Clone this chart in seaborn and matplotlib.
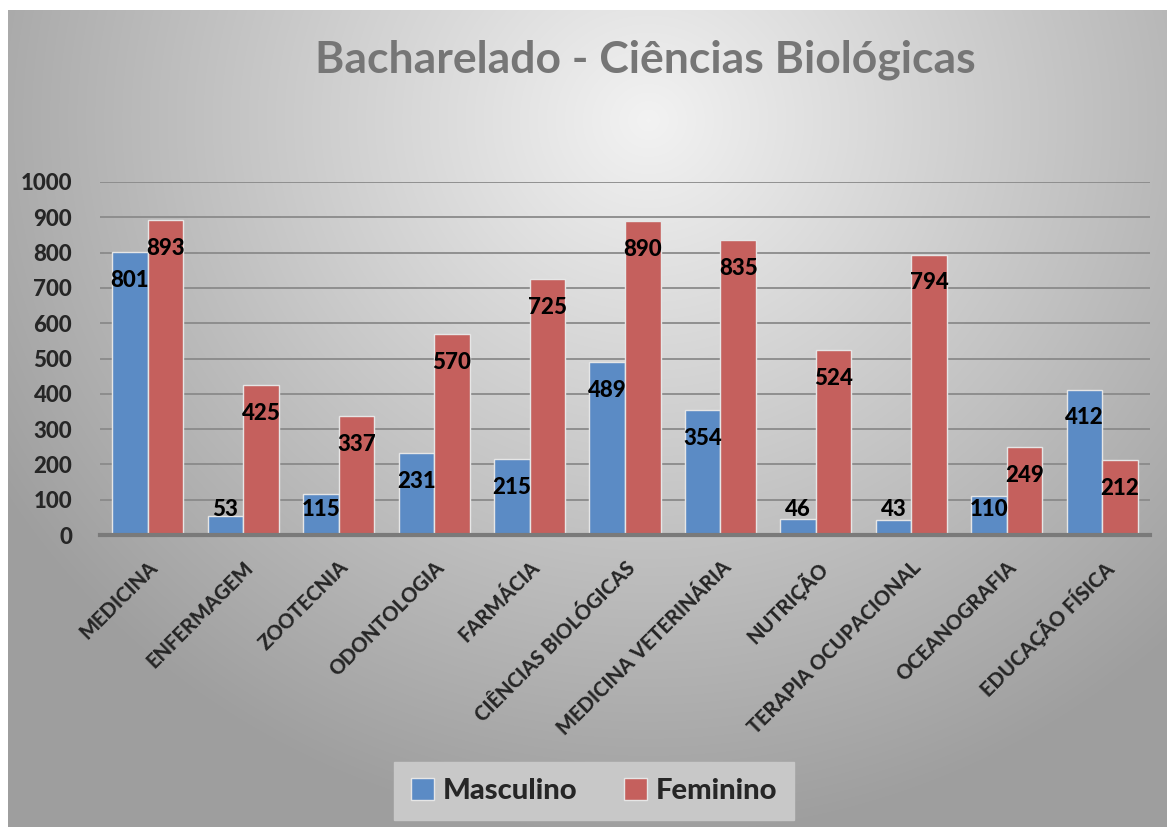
import numpy as np
import pandas as pd
import matplotlib.pyplot as plt
import seaborn as sns

cursos = ['MEDICINA', 'ENFERMAGEM', 'ZOOTECNIA', 'ODONTOLOGIA', 'FARMÁCIA',
          'CIÊNCIAS BIOLÓGICAS', 'MEDICINA VETERINÁRIA', 'NUTRIÇÃO',
          'TERAPIA OCUPACIONAL', 'OCEANOGRAFIA', 'EDUCAÇÃO FÍSICA']
masculino = [801, 53, 115, 231, 215, 489, 354, 46, 43, 110, 412]
feminino = [893, 425, 337, 570, 725, 890, 835, 524, 794, 249, 212]
series = ['Masculino', 'Feminino']

df = pd.DataFrame({
    'Curso': cursos * 2,
    'Sexo': ['Masculino'] * len(cursos) + ['Feminino'] * len(cursos),
    'Total': masculino + feminino,
})

sns.set_theme(style='white')
plt.rcParams['font.family'] = ['Lato', 'DejaVu Sans']

fig = plt.figure(figsize=(11.67, 8.27), dpi=100)
fig.patch.set_facecolor('white')

# fundo com gradiente radial (estilo Excel)
bg = fig.add_axes([8 / 1167, 0, 1 - 8 / 1167, 1 - 10 / 827], zorder=-5)
yy, xx = np.mgrid[0:817, 0:1159]
r = np.sqrt(((xx - 640) / 760) ** 2 + ((yy - 110) / 720) ** 2)
val = np.clip(0.95 - 0.33 * r, 0.62, 0.96)
bg.imshow(np.dstack([val, val, val]), aspect='auto', interpolation='bilinear')
bg.set_axis_off()

ax = fig.add_axes([100 / 1167, 1 - 535 / 827, 1050 / 1167, 353 / 827])
ax.set_facecolor('none')

sns.barplot(data=df, x='Curso', y='Total', hue='Sexo', hue_order=series,
            palette=['#5b8bc5', '#c5605d'], saturation=1, width=0.745, gap=0,
            edgecolor='#e6e6e6', linewidth=1.0, ax=ax, zorder=3)

for container in ax.containers:
    for bar in container:
        v = bar.get_height()
        y = max(v - 80, 72)
        ax.text(bar.get_x() + bar.get_width() / 2, y, f'{int(v)}',
                ha='center', va='center', fontsize=16, fontweight='black',
                color='black', zorder=5)

ax.set_ylim(0, 1000)
ax.set_yticks(range(0, 1001, 100))
ax.yaxis.grid(True, color='#8a8a8a', linewidth=1.3, zorder=0)
ax.set_axisbelow(True)
for s in ['top', 'right', 'left']:
    ax.spines[s].set_visible(False)
ax.spines['bottom'].set_color('#7a7a7a')
ax.spines['bottom'].set_linewidth(3)
ax.spines['bottom'].set_zorder(4)
ax.set_xlabel('')
ax.set_ylabel('')
ax.tick_params(axis='y', length=0, pad=20, labelsize=16)
ax.tick_params(axis='x', length=0, pad=16, labelsize=14.5)
for lbl in ax.get_yticklabels():
    lbl.set_fontweight('black')
for lbl in ax.get_xticklabels():
    lbl.set_fontweight('black')
    lbl.set_rotation(45)
    lbl.set_ha('right')
    lbl.set_rotation_mode('anchor')

fig.text(645 / 1167, 1 - 60 / 827, 'Bacharelado - Ciências Biológicas',
         ha='center', va='center', fontsize=32, fontweight='bold',
         color='#767676')

handles, labels = ax.get_legend_handles_labels()
ax.legend(handles, labels, loc='center', bbox_to_anchor=(594 / 1167, 1 - 791 / 827),
          bbox_transform=fig.transFigure, ncol=2, frameon=True, fancybox=False,
          facecolor='#c8c8c8', edgecolor='#c8c8c8', framealpha=1,
          prop={'weight': 'black', 'size': 21}, handlelength=0.8,
          handleheight=0.8, handletextpad=0.3, columnspacing=1.6,
          borderpad=0.55, borderaxespad=0)

fig.savefig('out.png', dpi=100)
